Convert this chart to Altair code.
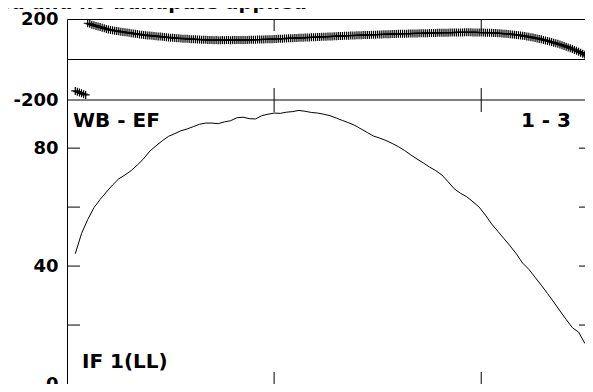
import altair as alt
import pandas as pd

# ---------------- data ----------------
title_text = "Calibration applied and no bandpass applied"
label_left = "WB - EF"
label_right = "1 - 3"
label_if = "IF 1(LL)"

x_ticks = [100, 200]            # vertical tick marks on the frame (channel)
phase_labels = [-200, 200]      # phase axis labels (deg)
phase_lines = [0, -200]         # zero line and panel divider
amp_labels = [0, 40, 80]        # amplitude axis labels
amp_ticks = [20, 40, 60, 80]    # amplitude tick marks

# phase per channel, channels 4..253
phase_start = 4
phase_deg = [
    -155, -159, -163, -167, -171, -175,
    179, 176, 172, 169, 166, 163, 160, 157, 154, 151, 148, 146,
    144, 142.5, 141, 139, 137.5, 136, 134.5, 133, 131.5, 130, 128.5, 127, 125.5, 124, 122.5, 121,
    120, 119, 118, 117, 116, 115, 114, 113, 112, 111, 110, 109, 108, 107, 106, 105,
    104.5, 104, 103, 102.5, 102, 101, 100.5, 100, 99.5, 99, 98.5, 98, 97.5, 97, 96.5, 96,
    96, 95.5, 96, 95.5, 95.5, 96, 95.5, 96, 96, 95.5, 96, 96, 96, 96.5, 96,
    96.3, 96.6, 96.8, 97.1, 97.4, 97.7, 98, 98.2, 98.5, 98.8, 99.1, 99.4, 99.7, 100,
    100.5, 101, 101.5, 102, 102.5, 102.9, 103.4, 103.9, 104.4, 104.8, 105.3, 105.8, 106.3, 106.8,
    107.2, 107.6, 108.1, 108.5, 109, 109.5, 109.9, 110.4, 110.9, 111.3, 111.8, 112.2,
    112.7, 113.2, 113.6, 114.1, 114.5, 115, 115.5, 115.9, 116.4, 116.8, 117.3, 117.8,
    118.2, 118.6, 119, 119.3, 119.7, 120.1, 120.4, 120.8, 121.2, 121.5, 121.9, 122.3,
    122.6, 123, 123.4, 123.8, 124.1, 124.5, 124.9, 125.2, 125.6, 126, 126.3, 126.7,
    127, 127.2, 127.5, 127.7, 128, 128.2, 128.5, 128.7, 129, 129.2, 129.5, 129.7,
    130, 130.2, 130.5, 130.7, 131, 131.2, 131.5, 131.7, 132, 132.2, 132.5, 132.7, 133,
    133.2, 133.4, 133.6, 133.7, 133.8, 133.9, 134, 134, 134, 134, 133.9, 133.8, 133.6, 133.4,
    133.2, 132.9, 132.6, 132.3, 132.0, 131.6, 131.1, 130.5, 129.9, 129.2,
    128.5, 127.7, 126.8, 125.9, 125, 123.9, 122.7, 121.5, 120.1, 118.7,
    117.1, 115.5, 113.8, 112, 110.3, 108.3, 106.2, 104, 101.8, 99.5,
    96.9, 94.2, 91.5, 88.8, 86, 83.1, 80.2, 77.2, 74.1, 70.7,
    67.1, 63.5, 59.8, 56, 51.8, 47.5, 43.1, 38.6, 33.8, 28.9,
    23.6, 18.1, 12.4, 6.6,
]

# amplitude every 3rd channel, channels 4..253
amp_start = 4
amp_step = 3
amp_vals = [
    44.2, 51.0, 55.8, 59.8, 62.6, 65.1, 67.5, 69.6, 70.9, 72.4,
    74.3, 76.4, 79.0, 80.8, 82.5, 84.0, 84.9, 85.9, 86.5, 87.3,
    88.1, 88.5, 88.5, 88.3, 88.9, 89.3, 90.3, 90.5, 90.0, 89.9,
    91.0, 91.5, 91.9, 91.8, 92.2, 92.4, 92.8, 92.5, 92.1, 91.9,
    91.5, 91.0, 90.2, 89.4, 88.6, 87.7, 86.5, 85.3, 84.1, 83.4,
    82.6, 81.6, 80.5, 79.2, 77.7, 76.3, 75.0, 73.6, 72.4, 70.9,
    68.6, 66.2, 64.7, 63.5, 61.8, 60.0, 57.3, 54.3, 51.8, 49.3,
    46.8, 44.1, 41.0, 38.9, 36.2, 33.5, 30.7, 27.8, 24.8, 21.9,
    19.1, 17.6, 13.8, 11.7,
]

# ---------------- tables ----------------
phase_df = pd.DataFrame({"ch": list(range(phase_start, phase_start + len(phase_deg))),
                         "phase": phase_deg})
amp_df = pd.DataFrame({"ch": list(range(amp_start, amp_start + amp_step * len(amp_vals), amp_step)),
                       "amp": amp_vals})
xtick_df = pd.DataFrame({"ch": x_ticks})
pline_df = pd.DataFrame({"v": phase_lines})
atick_df = pd.DataFrame({"v": amp_ticks})

# ---------------- styling ----------------
W, H = 518, 365
TOP_H = 81
FONT = "DejaVu Sans"
TICK = 12

x_scale = alt.Scale(domain=[0, 250.1], nice=False, zero=False)
phase_scale = alt.Scale(domain=[-200, 200], range=[TOP_H, 0], nice=False, zero=False)
amp_scale = alt.Scale(domain=[0, 96.33], range=[H, TOP_H], nice=False)


def left_axis(vals):
    return alt.Axis(values=vals, orient="left", ticks=False, tickSize=0, domain=False,
                    grid=False, labelFont=FONT, labelFontWeight="bold", labelFontSize=18,
                    labelColor="black", labelPadding=9, title=None,
                    labelExpr="datum.value < 0 ? '-' + abs(datum.value) : datum.label")


phase_axis = left_axis(phase_labels)
amp_axis = left_axis(amp_labels)
X = alt.X("ch:Q", scale=x_scale, axis=None)


def xtick(y0, y1):
    return alt.Chart(xtick_df).mark_rule(color="black", strokeWidth=1).encode(
        x=X, y=alt.value(y0), y2=alt.value(y1))


# top panel: phase
phase_lines_layer = alt.Chart(pline_df).mark_rule(color="black", strokeWidth=1).encode(
    y=alt.Y("v:Q", scale=phase_scale, axis=phase_axis))
phase_pts = alt.Chart(phase_df).mark_point(
    shape="M-1,0L1,0M0,-1L0,1", size=64, filled=False, color="black",
    strokeWidth=1.2, opacity=1, clip=True).encode(
    x=X, y=alt.Y("phase:Q", scale=phase_scale, axis=phase_axis))
top = alt.layer(phase_lines_layer, phase_pts, xtick(0, TICK), xtick(TOP_H - TICK, TOP_H))

# bottom panel: amplitude
amp_line = alt.Chart(amp_df).mark_line(color="black", strokeWidth=1, clip=True).encode(
    x=X, y=alt.Y("amp:Q", scale=amp_scale, axis=amp_axis))
amp_tl = alt.Chart(atick_df).mark_rule(color="black", strokeWidth=1).encode(
    y=alt.Y("v:Q", scale=amp_scale, axis=amp_axis), x=alt.value(0), x2=alt.value(13))
amp_tr = alt.Chart(atick_df).mark_rule(color="black", strokeWidth=1).encode(
    y=alt.Y("v:Q", scale=amp_scale, axis=amp_axis), x=alt.value(W - 6), x2=alt.value(W))
bottom = alt.layer(amp_line, amp_tl, amp_tr, xtick(TOP_H, TOP_H + TICK), xtick(H - TICK, H))


def text_layer(txt, x, y, align, size):
    return alt.Chart(pd.DataFrame({"t": [txt]})).mark_text(
        font=FONT, fontWeight="bold", fontSize=size, color="black",
        align=align, baseline="alphabetic").encode(
        text="t:N", x=alt.value(x), y=alt.value(y))


chart = alt.layer(
    top, bottom,
    text_layer(title_text, 240, -10, "right", 19.5),
    text_layer(label_left, 6, 108, "left", 20),
    text_layer(label_right, 504, 108, "right", 20),
    text_layer(label_if, 15, 349, "left", 20),
).resolve_scale(y="independent").properties(
    width=W, height=H,
    autosize=alt.AutoSizeParams(type="none"),
    padding={"left": 59, "top": 11, "right": 0, "bottom": 0},
    background="white",
).configure_view(stroke="black", strokeWidth=1)

chart.save("out.html", embed_options={"renderer": "svg", "actions": False})
